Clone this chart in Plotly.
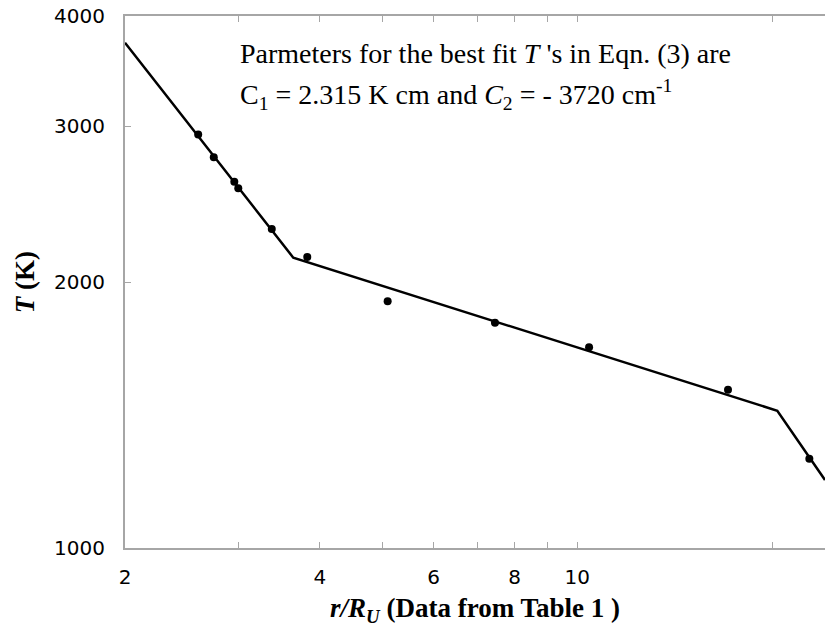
import math
import plotly.graph_objects as go

# Measured temperatures versus radial distance (r/R_U)
r_ratio = [2.595, 2.743, 2.951, 2.993, 3.372, 3.826, 5.093, 7.462, 10.43, 17.10, 22.84]
temp_k = [2938, 2768, 2597, 2553, 2296, 2135, 1902, 1799, 1687, 1510, 1262]

# Best-fit piecewise curve (vertices)
fit_r = [2.0, 3.640, 20.38, 24.15]
fit_t = [3730, 2131, 1430, 1194]

# Axis ticks
x_tickvals = [2, 3, 4, 5, 6, 7, 8, 9, 10, 20]
x_ticktext = ["2", "", "4", "", "6", "", "8", "", "10", ""]
y_tickvals = [1000, 2000, 3000, 4000]
y_ticktext = ["1000", "2000", "3000", "4000"]

x_range = [2.0, 24.15]
y_range = [1000, 4000]

fig = go.Figure()
fig.add_trace(go.Scatter(
    x=fit_r, y=fit_t, mode="lines",
    line=dict(color="black", width=2.5),
    showlegend=False, hoverinfo="skip",
))
fig.add_trace(go.Scatter(
    x=r_ratio, y=temp_k, mode="markers",
    marker=dict(color="black", size=8),
    showlegend=False,
))

axis_line = "#a6a6a6"
tick_font = dict(family="DejaVu Sans", size=20, color="black")
serif = "Liberation Serif"

fig.update_xaxes(
    type="log",
    range=[math.log10(x_range[0]), math.log10(x_range[1])],
    tickmode="array", tickvals=x_tickvals, ticktext=x_ticktext,
    ticks="inside", ticklen=6, tickcolor=axis_line, tickwidth=1,
    showline=True, linecolor=axis_line, linewidth=2, mirror="ticks",
    showgrid=False, zeroline=False,
    tickfont=tick_font, ticklabelstandoff=10,
    title=dict(
        text="<b><i>r/R</i><sub><i>U</i></sub> (Data from Table 1 )</b>",
        font=dict(family=serif, size=27, color="black"),
        standoff=10,
    ),
)
fig.update_yaxes(
    type="log",
    range=[math.log10(y_range[0]), math.log10(y_range[1])],
    tickmode="array", tickvals=y_tickvals, ticktext=y_ticktext,
    ticks="inside", ticklen=6, tickcolor=axis_line, tickwidth=1,
    showline=True, linecolor=axis_line, linewidth=2, mirror=False,
    showgrid=False, zeroline=False,
    tickfont=tick_font, ticklabelstandoff=14,
    title=dict(
        text="<b><i>T</i> (K)</b>",
        font=dict(family=serif, size=27, color="black"),
        standoff=12,
    ),
)

ann_font = dict(family=serif, size=28, color="black")
fig.add_annotation(
    xref="paper", yref="paper", x=0.162, y=0.930,
    xanchor="left", yanchor="middle", showarrow=False,
    text="Parmeters for the best fit <i>T</i> 's in Eqn. (3) are",
    font=ann_font,
)
fig.add_annotation(
    xref="paper", yref="paper", x=0.162, y=0.852,
    xanchor="left", yanchor="middle", showarrow=False,
    text="C<sub>1</sub> = 2.315 K cm and <i>C</i><sub>2</sub> = - 3720 cm<sup>-1</sup>",
    font=ann_font,
)

fig.update_layout(
    width=825, height=633,
    margin=dict(l=125, r=0, t=16, b=85),
    plot_bgcolor="white", paper_bgcolor="white",
)

fig.write_html("out.html")
